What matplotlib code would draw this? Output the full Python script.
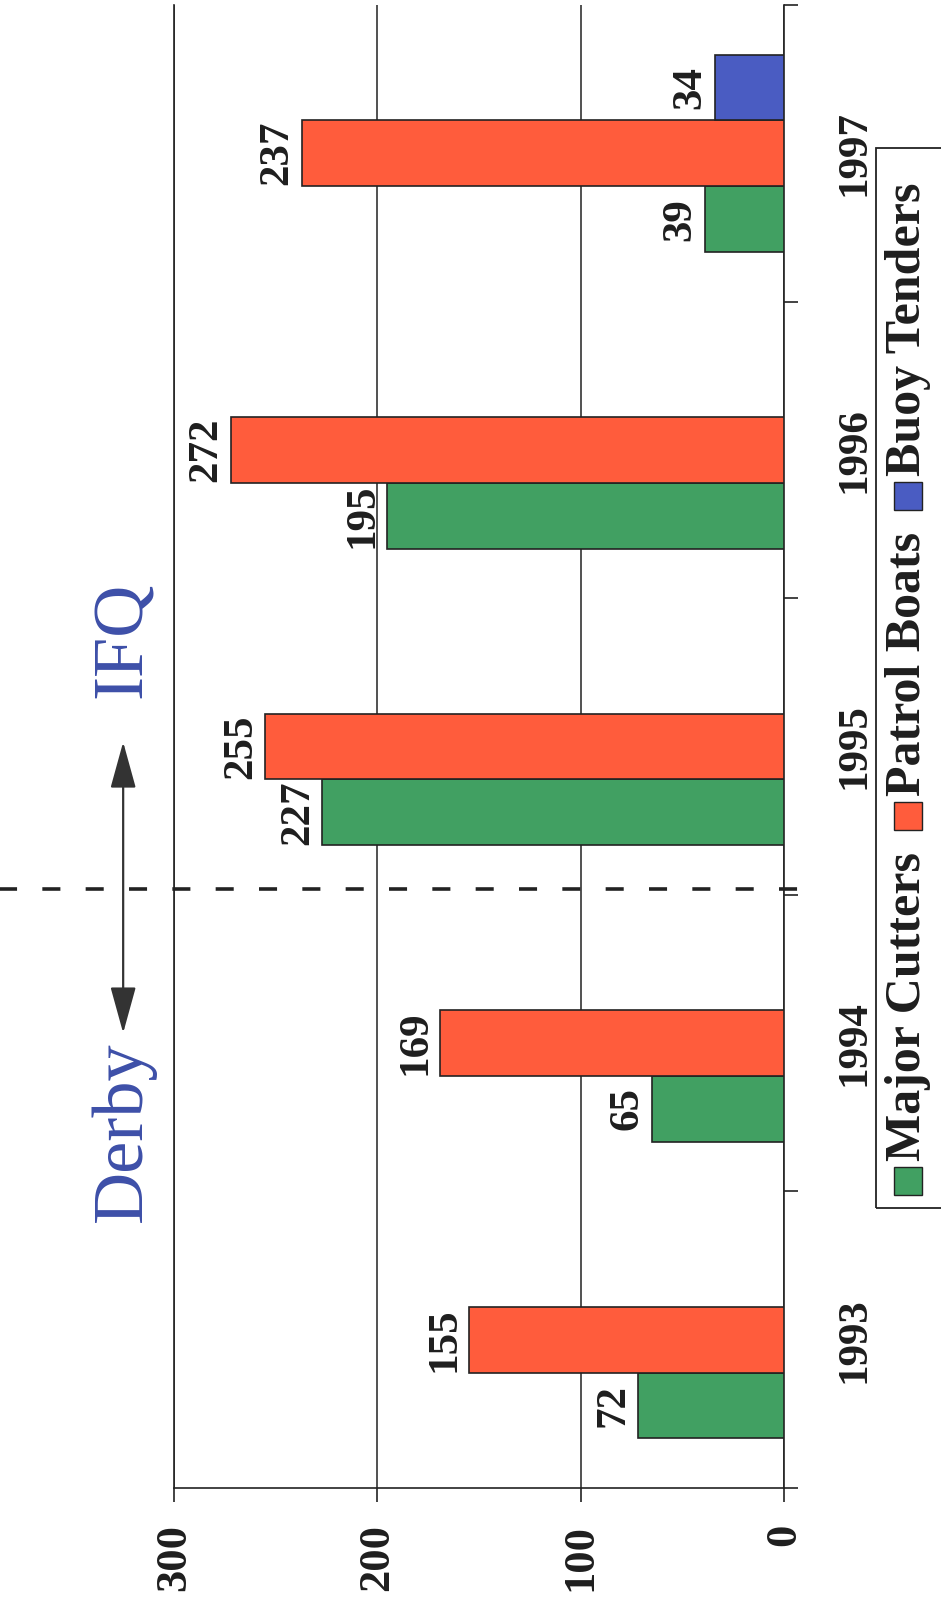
import numpy as np
import matplotlib.pyplot as plt
from matplotlib.patches import Rectangle

# Cutter/boat days per year, by vessel class
years = ['1993', '1994', '1995', '1996', '1997']
major_cutters = [72, 65, 227, 195, 39]
patrol_boats = [155, 169, 255, 272, 237]
buoy_tenders = [0, 0, 0, 0, 34]
value_ticks = [0, 100, 200, 300]

series = [('Major Cutters', major_cutters, '#41a062'),
          ('Patrol Boats', patrol_boats, '#ff5c3c'),
          ('Buoy Tenders', buoy_tenders, '#4a5cc2')]

plt.rcParams['font.family'] = ['Liberation Serif', 'DejaVu Serif']
INK = '#1e1e1e'
BLUE_TXT = '#3d4fa8'

W, H = 941, 1605
fig = plt.figure(figsize=(W / 100, H / 100), dpi=100)
ax = fig.add_axes([174 / W, 1 - 1488 / H, (784 - 174) / W, (1488 - 5) / H])

# the chart is laid out turned on its side: values run right-to-left, years bottom-to-top
y = np.arange(len(years))
bw = 0.222
for i, (name, vals, col) in enumerate(series):
    vals = np.array(vals)
    pos = y + (i - 1) * bw
    keep = vals > 0
    ax.barh(pos[keep], vals[keep], height=bw, color=col, edgecolor='#222222',
            linewidth=1.2, zorder=3)
    for p, v in zip(pos[keep], vals[keep]):
        ax.annotate(str(v), (v, p), xytext=(-4, 0), textcoords='offset points',
                    rotation=90, ha='right', va='center', fontsize=31,
                    fontweight='bold', color=INK, zorder=4)

ax.set_xlim(300, 0)
ax.set_ylim(-0.5, 4.5)

ax.set_xticks(value_ticks)
ax.set_xticklabels([str(v) for v in value_ticks], rotation=90, fontsize=32,
                   fontweight='bold', color=INK)
ax.tick_params(axis='x', length=10, width=1.2, pad=16, direction='out', color='#222222')
ax.xaxis.grid(True, color='#222222', lw=1.1)
ax.set_axisbelow(True)

ax.yaxis.tick_right()
ax.set_yticks(y)
ax.set_yticklabels(years, rotation=90, va='center', fontsize=31,
                   fontweight='bold', color=INK)
ax.set_yticks(np.arange(-0.5, len(years), 1), minor=True)
ax.tick_params(axis='y', which='major', length=0, pad=37)
ax.tick_params(axis='y', which='minor', length=10, width=1.2, direction='out', color='#222222')

ax.spines['top'].set_visible(False)
for s in ('left', 'bottom', 'right'):
    ax.spines[s].set_color('#222222')
    ax.spines[s].set_linewidth(1.2)

# Derby / IFQ regime split
split = 1.52
ax.plot([388, -12], [split, split], ls=(0, (5, 7)), lw=2.6, color='#222222',
        clip_on=False, zorder=5)
ax.annotate('', xy=(325, 2.015), xytext=(325, 1.034),
            arrowprops=dict(arrowstyle='<|-|>,head_length=2.9,head_width=0.8',
                            mutation_scale=10, color='#333333', lw=1.6,
                            shrinkA=0, shrinkB=0),
            annotation_clip=False)
ax.text(325, 0.70, 'Derby', rotation=90, ha='center', va='center',
        fontsize=52, color=BLUE_TXT, clip_on=False)
ax.text(325, 2.36, 'IFQ', rotation=90, ha='center', va='center',
        fontsize=52, color=BLUE_TXT, clip_on=False)

# legend, stacked bottom-to-top along the right edge
renderer = fig.canvas.get_renderer()
cx = 908
ypix = H - 1195
sq = 28
for name, _, col in series:
    fig.add_artist(Rectangle(((cx - sq / 2) / W, ypix / H), sq / W, sq / H,
                             transform=fig.transFigure, fc=col, ec='#222222', lw=1))
    ypix += sq + 6
    t = fig.text(cx / W, ypix / H, name, rotation=90, ha='center', va='bottom',
                 fontsize=36, fontweight='bold', color=INK)
    ypix += t.get_window_extent(renderer).height + 22
fig.add_artist(Rectangle((876 / W, (H - 1208) / H), (W + 10 - 876) / W, (1208 - 148) / H,
                         transform=fig.transFigure, fill=False, ec='#222222', lw=1.3))

fig.savefig('out.png', dpi=100)
